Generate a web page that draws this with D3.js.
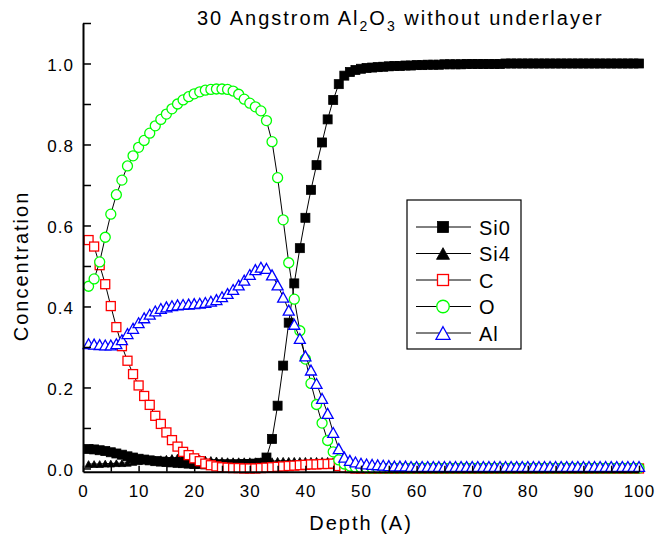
<!DOCTYPE html>
<html lang="en">
<head>
    <meta charset="UTF-8"/>
    <title>30 Angstrom Al2O3 without underlayer</title>
    <script src="https://d3js.org/d3.v7.min.js"></script>
    <style>
        body { margin: 0; background: white; }
        text { font-family: "Liberation Sans", Arial, sans-serif; }
    </style>
</head>
<body>
<script>
    // depth in Angstrom
    var depth = [1,2,3,4,5,6,7,8,9,10,11,12,13,14,15,16,17,18,19,20,
                 21,22,23,24,25,26,27,28,29,30,31,32,33,34,35,36,37,38,39,40,
                 41,42,43,44,45,46,47,48,49,50,51,52,53,54,55,56,57,58,59,60,
                 61,62,63,64,65,66,67,68,69,70,71,72,73,74,75,76,77,78,79,80,
                 81,82,83,84,85,86,87,88,89,90,91,92,93,94,95,96,97,98,99,100];

    var si0 = [0.048,0.047,0.045,0.043,0.040,0.037,0.034,0.030,0.027,0.024,
               0.022,0.020,0.018,0.017,0.016,0.015,0.014,0.013,0.012,0.011,
               0.011,0.010,0.010,0.010,0.010,0.010,0.010,0.010,0.011,0.011,
               0.012,0.014,0.027,0.073,0.155,0.254,0.360,0.457,0.544,0.619,
               0.688,0.749,0.805,0.862,0.910,0.949,0.970,0.979,0.984,0.987,
               0.989,0.990,0.991,0.992,0.993,0.994,0.994,0.995,0.995,0.996,
               0.996,0.997,0.997,0.997,0.998,0.998,0.998,0.998,0.999,0.999,
               0.999,0.999,0.999,0.999,0.999,1.000,1.000,1.000,1.000,1.000,
               1.000,1.000,1.000,1.000,1.000,1.000,1.000,1.000,1.000,1.000,
               1.000,1.000,1.000,1.000,1.000,1.000,1.000,1.000,1.000,1.000];

    var si4 = [0.011,0.011,0.011,0.012,0.012,0.013,0.013,0.014,0.016,0.018,
               0.020,0.021,0.022,0.023,0.024,0.026,0.027,0.028,0.027,0.026,
               0.024,0.022,0.021,0.020,0.019,0.018,0.018,0.018,0.018,0.018,
               0.018,0.018,0.018,0.018,0.019,0.019,0.019,0.019,0.019,0.019,
               0.019,0.019,0.019,0.019,0.018,0.012,0.008,0.006,0.005,0.005,
               0.005,0.005,0.005,0.005,0.005,0.005,0.005,0.005,0.005,0.005,
               0.005,0.005,0.005,0.005,0.005,0.005,0.005,0.005,0.005,0.005,
               0.005,0.005,0.005,0.005,0.005,0.005,0.005,0.005,0.005,0.005,
               0.005,0.005,0.005,0.005,0.005,0.005,0.005,0.005,0.005,0.005,
               0.005,0.005,0.005,0.005,0.005,0.005,0.005,0.005,0.005,0.005];

    var carbon = [0.564,0.548,0.502,0.455,0.401,0.349,0.302,0.266,0.233,0.205,
                  0.179,0.157,0.130,0.110,0.089,0.070,0.054,0.041,0.033,0.025,
                  0.018,0.012,0.008,0.005,0.003,0.002,0.001,0.001,0.000,0.000,
                  0.000,0.001,0.002,0.003,0.004,0.005,0.006,0.007,0.008,0.009,
                  0.010,0.010,0.011,0.011,0.012,0.006,0.002,0.001,0.000,0.000,
                  0.000,0.000,0.000,0.000,0.000,0.000,0.000,0.000,0.000,0.000,
                  0.000,0.000,0.000,0.000,0.000,0.000,0.000,0.000,0.000,0.000,
                  0.000,0.000,0.000,0.000,0.000,0.000,0.000,0.000,0.000,0.000,
                  0.000,0.000,0.000,0.000,0.000,0.000,0.000,0.000,0.000,0.000,
                  0.000,0.000,0.000,0.000,0.000,0.000,0.000,0.000,0.000,0.000];

    var oxygen = [0.450,0.468,0.510,0.571,0.628,0.676,0.712,0.747,0.772,0.793,
                  0.810,0.828,0.846,0.862,0.875,0.888,0.900,0.910,0.918,0.925,
                  0.930,0.934,0.936,0.937,0.937,0.936,0.932,0.924,0.912,0.902,
                  0.893,0.883,0.859,0.807,0.718,0.614,0.508,0.418,0.340,0.270,
                  0.210,0.158,0.112,0.069,0.041,0.021,0.011,0.006,0.003,0.002,
                  0.001,0.001,0.001,0.001,0.001,0.001,0.001,0.001,0.001,0.001,
                  0.001,0.001,0.001,0.001,0.001,0.001,0.001,0.001,0.001,0.001,
                  0.001,0.001,0.001,0.001,0.001,0.001,0.001,0.001,0.001,0.001,
                  0.001,0.001,0.001,0.001,0.001,0.001,0.001,0.001,0.001,0.001,
                  0.001,0.001,0.001,0.001,0.001,0.001,0.001,0.001,0.001,0.001];

    var aluminium = [0.308,0.307,0.306,0.305,0.305,0.308,0.318,0.333,0.346,0.360,
                     0.372,0.381,0.389,0.395,0.399,0.402,0.404,0.405,0.406,0.407,
                     0.408,0.410,0.413,0.417,0.424,0.432,0.442,0.453,0.465,0.479,
                     0.491,0.497,0.494,0.478,0.453,0.423,0.391,0.356,0.321,0.278,
                     0.243,0.210,0.173,0.136,0.089,0.049,0.028,0.020,0.016,0.013,
                     0.011,0.010,0.009,0.008,0.007,0.006,0.006,0.006,0.005,0.005,
                     0.005,0.005,0.005,0.005,0.005,0.005,0.005,0.005,0.005,0.005,
                     0.005,0.005,0.005,0.005,0.005,0.005,0.005,0.005,0.005,0.005,
                     0.005,0.005,0.005,0.005,0.005,0.005,0.005,0.005,0.005,0.005,
                     0.005,0.005,0.005,0.005,0.005,0.005,0.005,0.005,0.005,0.005];

    var seriesNames = ["Si0", "Si4", "C", "O", "Al"];
    var xTicks = [0, 10, 20, 30, 40, 50, 60, 70, 80, 90, 100];
    var yTicks = [0.0, 0.2, 0.4, 0.6, 0.8, 1.0];

    var w = 658;
    var h = 538;

    var xScale = d3.scaleLinear().domain([0, 100]).range([83, 639]);
    var yScale = d3.scaleLinear().domain([-0.008, 1.1]).range([471.7, 23]);

    var svg = d3.select("body")
                .append("svg")
                .attr("width", w)
                .attr("height", h);

    // symbol styles, one per series (same order as seriesNames)
    var styles = [
        { values: si0,       shape: "square",   stroke: "black",   fill: "black", size: 9 },
        { values: si4,       shape: "triangle", stroke: "black",   fill: "black", size: 7.5 },
        { values: carbon,    shape: "square",   stroke: "#ff0000", fill: "white", size: 9 },
        { values: oxygen,    shape: "circle",   stroke: "#00ff00", fill: "white", size: 10 },
        { values: aluminium, shape: "triangle", stroke: "#0000ff", fill: "white", size: 11 }
    ];

    function drawMarker(g, shape, cx, cy, s, stroke, fill) {
        var m;
        if (shape == "square") {
            m = g.append("rect")
                 .attr("x", cx - s / 2).attr("y", cy - s / 2)
                 .attr("width", s).attr("height", s);
        } else if (shape == "circle") {
            m = g.append("circle")
                 .attr("cx", cx).attr("cy", cy).attr("r", s / 2);
        } else {
            var th = s * 0.9;
            m = g.append("path")
                 .attr("d", "M" + cx + "," + (cy - th / 2) +
                            "L" + (cx + s / 2) + "," + (cy + th / 2) +
                            "L" + (cx - s / 2) + "," + (cy + th / 2) + "Z");
        }
        m.attr("fill", fill)
         .attr("stroke", stroke)
         .attr("stroke-width", fill == "black" ? 0.8 : 1.3);
    }

    var line = d3.line()
                 .x(function(d) { return xScale(d[0]); })
                 .y(function(d) { return yScale(d[1]); });

    styles.forEach(function(st) {
        var pts = depth.map(function(d, i) { return [d, st.values[i]]; });
        var g = svg.append("g");
        g.append("path")
         .attr("d", line(pts))
         .attr("fill", "none")
         .attr("stroke", "black")
         .attr("stroke-width", 1);
        pts.forEach(function(p) {
            drawMarker(g, st.shape, xScale(p[0]), yScale(p[1]), st.size, st.stroke, st.fill);
        });
    });

    // axes (ticks point inward)
    var yMinor = d3.range(0, 11).map(function(i) { return i / 10; }).concat([1.1]);
    var yAxis = d3.axisLeft(yScale)
                  .tickValues(yMinor)
                  .tickSizeInner(-8)
                  .tickSizeOuter(0)
                  .tickPadding(9)
                  .tickFormat(function(d) {
                      var hit = yTicks.some(function(t) { return Math.abs(t - d) < 1e-6; });
                      return hit ? d3.format(".1f")(d) : "";
                  });

    var xMinor = d3.range(0, 21).map(function(i) { return i * 5; });
    var xAxis = d3.axisBottom(xScale)
                  .tickValues(xMinor)
                  .tickSizeInner(-6)
                  .tickSizeOuter(0)
                  .tickPadding(13)
                  .tickFormat(function(d) { return xTicks.indexOf(d) >= 0 ? d : ""; });

    var gx = svg.append("g")
                .attr("transform", "translate(0,471.7)")
                .call(xAxis);
    var gy = svg.append("g")
                .attr("transform", "translate(83,0)")
                .call(yAxis);

    [gx, gy].forEach(function(g) {
        g.select(".domain").attr("stroke-width", 2);
        g.selectAll(".tick line").attr("stroke-width", 1.5);
        g.selectAll("text")
         .attr("font-size", "17px")
         .attr("font-family", "Liberation Sans, Arial, sans-serif")
         .attr("letter-spacing", "1px")
         .attr("fill", "black");
    });
    gy.selectAll("text").attr("dy", "0.42em");

    // title with subscripts
    var title = svg.append("text")
                   .attr("x", 197)
                   .attr("y", 25)
                   .attr("font-size", "20px")
                   .attr("letter-spacing", "2px");
    title.append("tspan").text("30 Angstrom Al");
    title.append("tspan").attr("dy", 6).attr("font-size", "14px").text("2");
    title.append("tspan").attr("dy", -6).text("O");
    title.append("tspan").attr("dy", 6).attr("font-size", "14px").text("3");
    title.append("tspan").attr("dy", -6).text(" without underlayer");

    svg.append("text")
       .attr("text-anchor", "middle")
       .attr("x", 361)
       .attr("y", 530)
       .attr("font-size", "20px")
       .attr("letter-spacing", "2px")
       .text("Depth (A)");

    svg.append("text")
       .attr("text-anchor", "middle")
       .attr("transform", "translate(28,266) rotate(-90)")
       .attr("font-size", "20px")
       .attr("letter-spacing", "2px")
       .text("Concentration");

    // legend
    var legend = svg.append("g");
    legend.append("rect")
          .attr("x", 407).attr("y", 200)
          .attr("width", 114).attr("height", 149)
          .attr("fill", "white")
          .attr("stroke", "black")
          .attr("stroke-width", 1.2);

    var legendSizes = [11, 13, 11, 12.5, 14];
    seriesNames.forEach(function(name, i) {
        var ly = 227 + i * 26.5;
        legend.append("line")
              .attr("x1", 416).attr("x2", 471)
              .attr("y1", ly).attr("y2", ly)
              .attr("stroke", "black")
              .attr("stroke-width", 1);
        drawMarker(legend, styles[i].shape, 443, ly, legendSizes[i], styles[i].stroke, styles[i].fill);
        legend.append("text")
              .attr("x", 479)
              .attr("y", ly + 7.5)
              .attr("font-size", "20px")
              .attr("letter-spacing", "1px")
              .text(name);
    });
</script>
</body>
</html>
